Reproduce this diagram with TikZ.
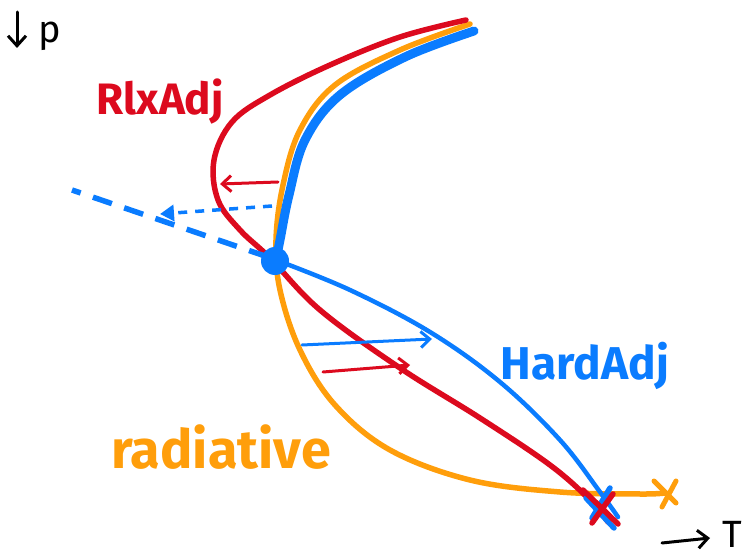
\documentclass[tikz,border=0pt]{standalone}
\usepackage{fontspec}
\setmainfont{Fira Sans}
\usetikzlibrary{arrows.meta}
\definecolor{cred}{HTML}{DC0A1E}
\definecolor{corange}{HTML}{FF9E0B}
\definecolor{cblue}{HTML}{0A7CFF}
\tikzset{
  redline/.style={cred,line width=5.5pt,line cap=round,line join=round},
  orangeline/.style={corange,line width=5.5pt,line cap=round,line join=round},
  bluethick/.style={cblue,line width=9pt,line cap=round,line join=round},
  bluethin/.style={cblue,line width=4.5pt,line cap=round,line join=round},
  thinarrow/.style={line width=3pt,line cap=round,-{Straight Barb[length=9pt,width=16pt,line width=3pt]}},
  axarrow/.style={black,line width=3pt,line cap=round,-{Straight Barb[length=10pt,width=18pt,line width=3pt]}},
  label/.style={font=\bfseries,inner sep=0pt},
  axlabel/.style={font=\fontsize{38}{38}\selectfont,inner sep=0pt}
}
\begin{document}
\begin{tikzpicture}[x=1pt,y=-1pt]
\useasboundingbox (0,0) rectangle (756,556);
% orange radiative
\draw[orangeline] plot[smooth,tension=0.6] coordinates {(470,24) (400,50) (335,85) (300,130) (283,185) (276,240) (280,290) (300,350) (335,405) (390,450) (470,480) (560,492) (640,494) (665,493)};
% blue thick upper
\draw[bluethick] plot[smooth,tension=0.6] coordinates {(474,31) (405,57) (340,95) (305,140) (289,195) (280,240) (276,260)};
% blue thin lower
\draw[bluethin] plot[smooth,tension=0.6] coordinates {(276,260) (350,290) (430,332) (500,382) (560,440) (600,492) (618,517)};
% red
\draw[redline] plot[smooth,tension=0.6] coordinates {(466,20) (400,37) (330,65) (270,95) (232,122) (214,160) (218,200) (240,230) (270,258) (320,310) (400,368) (480,418) (550,465) (590,500) (608,522)};
% blue dashed
\draw[cblue,line width=5.5pt,dash pattern=on 20pt off 13pt] (268,257) -- (72,190);
% blue dotted arrow
\coordinate (dA) at (272,206);
\coordinate (dB) at (160,214);
\draw[cblue,line width=3.5pt,dash pattern=on 9pt off 8pt,-{Triangle[length=14pt,width=16pt]}] (dA) -- (dB);
% red arrow left
\coordinate (rA) at (278,182);
\coordinate (rB) at (220,184);
\draw[cred,thinarrow] (rA) -- (rB);
% blue arrow right
\coordinate (bA) at (302,345);
\coordinate (bB) at (432,339);
\draw[cblue,thinarrow] (bA) -- (bB);
% red arrow right
\coordinate (rC) at (323,372);
\coordinate (rD) at (410,365);
\draw[cred,thinarrow] (rC) -- (rD);
% blob
\node[circle,fill=cblue,minimum size=28pt,inner sep=0pt] (blob) at (275,261) {};
% crosses
\draw[cblue,line width=5.5pt,line cap=round] (586,498) -- (614,528) (610,488) -- (592,518);
\draw[cred,line width=5.5pt,line cap=round] (583,490) -- (618,524) (613,494) -- (592,523);
\draw[corange,line width=5pt,line cap=round] (654,481) -- (676,503) (676,481) -- (662,507);
% labels
\node[label,text=cred,font=\bfseries\fontsize{44}{44}\selectfont] (rlx) at (160,102) {RlxAdj};
\node[label,text=cblue,font=\bfseries\fontsize{46}{46}\selectfont] (hard) at (585,366) {HardAdj};
\node[label,text=corange,font=\bfseries\fontsize{54}{54}\selectfont] (rad) at (221,447) {radiative};
% axes
\coordinate (pA) at (17,12);
\coordinate (pB) at (17,48);
\draw[axarrow] (pA) -- (pB);
\node[axlabel] (p) at (50,36) {p};
\coordinate (tA) at (662,543);
\coordinate (tB) at (710,538);
\draw[axarrow] (tA) -- (tB);
\node[axlabel] (T) at (732,534) {T};
\end{tikzpicture}
\end{document}
